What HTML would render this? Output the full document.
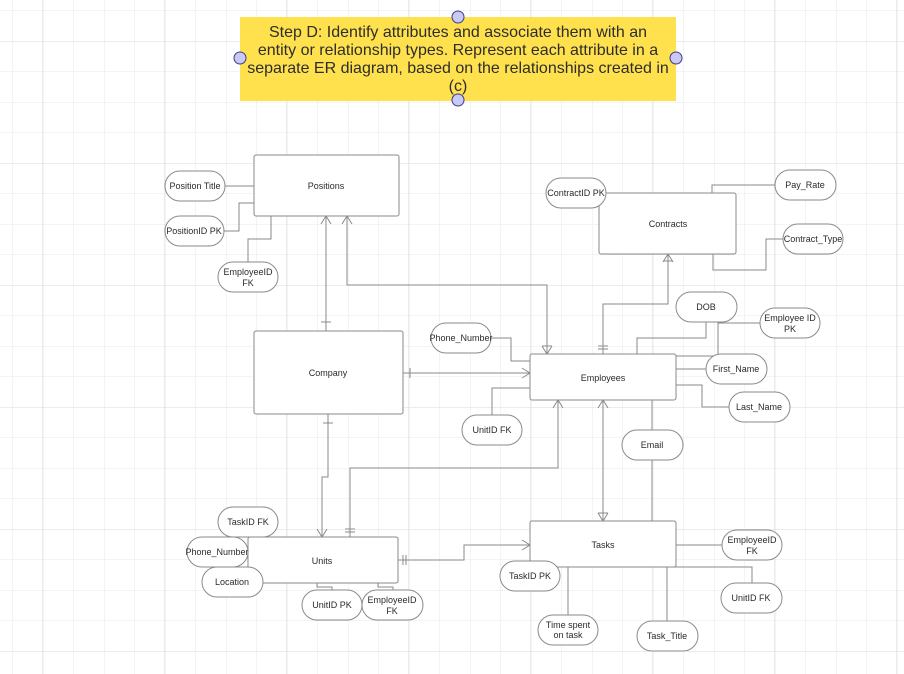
<!DOCTYPE html>
<html><head><meta charset="utf-8"><style>
html,body{margin:0;padding:0;background:#fff;width:904px;height:674px;overflow:hidden}
svg{display:block;font-family:"Liberation Sans",sans-serif}
</style></head><body>
<svg width="904" height="674" viewBox="0 0 904 674" xmlns="http://www.w3.org/2000/svg">
<defs>
<pattern id="g" x="12.5" y="10.5" width="30.5" height="30.5" patternUnits="userSpaceOnUse">
<path d="M0 0H30.5M0 0V30.5" stroke="#e8e8e8" stroke-width="1" fill="none"/>
</pattern>
<pattern id="G" x="42" y="41" width="122" height="122" patternUnits="userSpaceOnUse">
<path d="M0 0H122M0 0V122" stroke="#dadada" stroke-width="1" fill="none"/>
</pattern>
</defs>
<rect width="904" height="674" fill="url(#g)"/>
<rect width="904" height="674" fill="url(#G)"/>

<g stroke="#8a8a8a" fill="none" stroke-width="1">
<path d="M225 186H254"/>
<path d="M224 231H239V203H254"/>
<path d="M248 262V239H271V216"/>
<path d="M326 216V331"/><path d="M321 322H331"/><path d="M321 224L326 216L331 224"/>
<path d="M347 216V285H547V354"/><path d="M342 224L347 216L352 224"/><path d="M542 346L547 354L552 346M542 346H552"/>
<path d="M668 254V304H603V354"/><path d="M663 262L668 254L673 262M663 261H673"/><path d="M598 346H608M598 349H608"/>
<path d="M775 185H712V193"/>
<path d="M783 239H766V270H713V254"/>
<path d="M403 373H530"/><path d="M410 368V378"/><path d="M522 368L530 373L522 378"/>
<path d="M491 338H511V361H530"/>
<path d="M706 322V338H637V354"/>
<path d="M760 323H718V354"/>
<path d="M676 356H717"/>
<path d="M676 369H706"/>
<path d="M676 385H702V407H729"/>
<path d="M492 415V388H530"/>
<path d="M652 400V430M652 460V521"/>
<path d="M603 400V521"/><path d="M598 408L603 400L608 408"/><path d="M598 513L603 521L608 513M598 513H608"/>
<path d="M558 400V468H350V537"/><path d="M553 408L558 400L563 408"/><path d="M345 529H355M345 532H355"/>
<path d="M328 414V477H322V537"/><path d="M323 423H333"/><path d="M317 529L322 537L327 529"/>
<path d="M398 560H464V545H530"/><path d="M403 555V565M406 555V565"/><path d="M522 540L530 545L522 550"/>
<path d="M676 545H722"/>
<path d="M560 567H752V583"/>
<path d="M568 567V615"/><path d="M667 567V621"/>
<path d="M317 583V587H332V590"/><path d="M378 583V587H393V590"/>
</g>

<g stroke="#8a8a8a" fill="#fff" stroke-width="1">
<rect x="254" y="155" width="145" height="61" rx="2"/>
<rect x="254" y="331" width="149" height="83" rx="2"/>
<rect x="530" y="354" width="146" height="46" rx="2"/>
<rect x="599" y="193" width="137" height="61" rx="2"/>
<rect x="248" y="537" width="150" height="46" rx="2"/>
<rect x="530" y="521" width="146" height="46" rx="2"/>
<rect x="165" y="171" width="60" height="30" rx="15"/>
<rect x="165" y="216" width="59" height="30" rx="15"/>
<rect x="218" y="262" width="60" height="30" rx="15"/>
<rect x="546" y="178" width="60" height="30" rx="15"/>
<rect x="775" y="170" width="61" height="30" rx="15"/>
<rect x="783" y="224" width="60" height="30" rx="15"/>
<rect x="676" y="292" width="61" height="30" rx="15"/>
<rect x="760" y="308" width="60" height="30" rx="15"/>
<rect x="431" y="323" width="60" height="30" rx="15"/>
<rect x="706" y="354" width="61" height="30" rx="15"/>
<rect x="729" y="392" width="61" height="30" rx="15"/>
<rect x="462" y="415" width="60" height="30" rx="15"/>
<rect x="622" y="430" width="61" height="30" rx="15"/>
<rect x="218" y="507" width="60" height="30" rx="15"/>
<rect x="187" y="537" width="61" height="30" rx="15"/>
<rect x="202" y="567" width="61" height="30" rx="15"/>
<rect x="302" y="590" width="60" height="30" rx="15"/>
<rect x="362" y="590" width="61" height="30" rx="15"/>
<rect x="722" y="530" width="60" height="30" rx="15"/>
<rect x="500" y="561" width="60" height="30" rx="15"/>
<rect x="721" y="583" width="61" height="30" rx="15"/>
<rect x="538" y="615" width="60" height="30" rx="15"/>
<rect x="637" y="621" width="61" height="30" rx="15"/>
</g>

<g fill="#2a2a2a" font-size="9" text-anchor="middle">
<text x="326" y="189">Positions</text>
<text x="328" y="376">Company</text>
<text x="603" y="381">Employees</text>
<text x="668" y="227">Contracts</text>
<text x="322" y="564">Units</text>
<text x="603" y="548">Tasks</text>
<text x="195" y="189">Position Title</text>
<text x="194" y="234">PositionID PK</text>
<text x="248" y="275">EmployeeID</text><text x="248" y="286">FK</text>
<text x="576" y="196">ContractID PK</text>
<text x="805" y="188">Pay_Rate</text>
<text x="813" y="242">Contract_Type</text>
<text x="706" y="310">DOB</text>
<text x="790" y="321">Employee ID</text><text x="790" y="332">PK</text>
<text x="461" y="341">Phone_Number</text>
<text x="736" y="372">First_Name</text>
<text x="759" y="410">Last_Name</text>
<text x="492" y="433">UnitID FK</text>
<text x="652" y="448">Email</text>
<text x="248" y="525">TaskID FK</text>
<text x="217" y="555">Phone_Number</text>
<text x="232" y="585">Location</text>
<text x="332" y="608">UnitID PK</text>
<text x="392" y="603">EmployeeID</text><text x="392" y="614">FK</text>
<text x="752" y="543">EmployeeID</text><text x="752" y="554">FK</text>
<text x="530" y="579">TaskID PK</text>
<text x="751" y="601">UnitID FK</text>
<text x="568" y="628">Time spent</text><text x="568" y="638">on task</text>
<text x="667" y="639">Task_Title</text>
</g>

<rect x="240" y="17" width="436" height="84" fill="#ffe14d"/>
<g fill="#2d2d2d" font-size="16" text-anchor="middle">
<text x="458" y="37">Step D: Identify attributes and associate them with an</text>
<text x="458" y="55">entity or relationship types. Represent each attribute in a</text>
<text x="458" y="73">separate ER diagram, based on the relationships created in</text>
<text x="458" y="91">(c)</text>
</g>
<g fill="#c9c9f2" stroke="#3b3b8f" stroke-width="1">
<circle cx="458" cy="17" r="6"/><circle cx="240" cy="58" r="6"/>
<circle cx="676" cy="58" r="6"/><circle cx="458" cy="100" r="6"/>
</g>
</svg>
</body></html>
